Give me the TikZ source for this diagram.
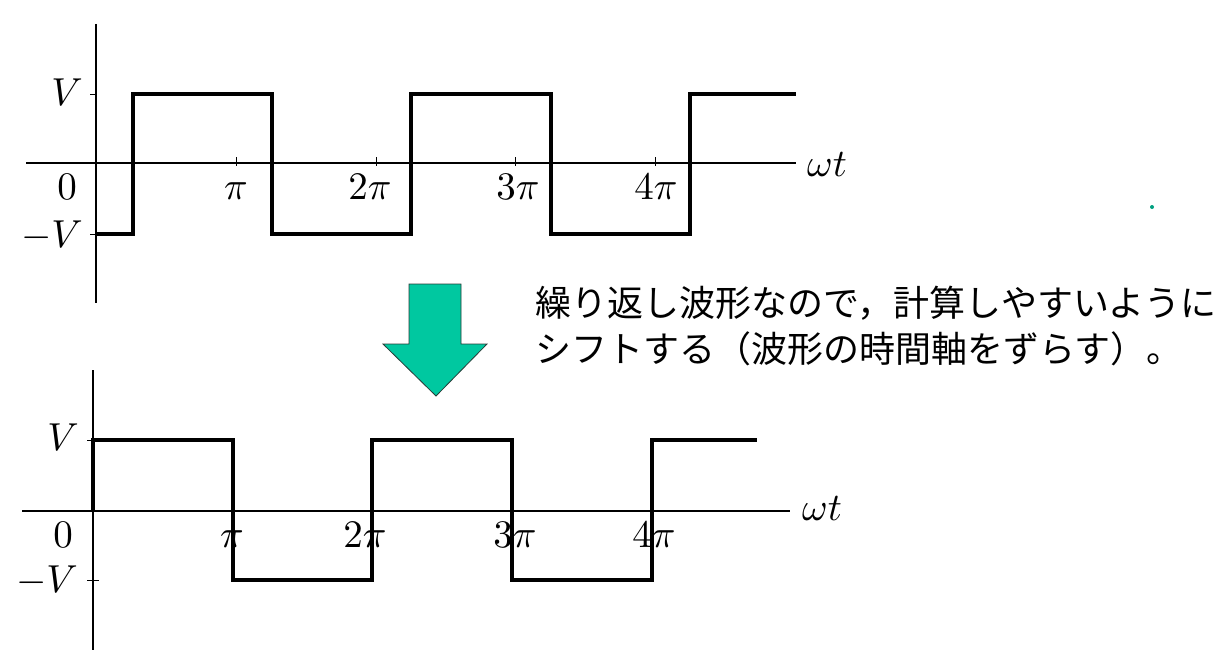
\documentclass[tikz,border=0pt]{standalone}
\usepackage{fontspec}
\newfontfamily\jp{Noto Sans CJK JP}
\newcommand{\mlab}[1]{\scalebox{3.9}{$#1$}}
\definecolor{arrowteal}{RGB}{0,200,160}
\definecolor{arrowedge}{RGB}{40,60,55}
\begin{document}
\begin{tikzpicture}[x=1pt,y=-1pt,
  axisline/.style={line width=2pt, line cap=butt},
  wave/.style={line width=3.8pt, line join=miter},
  wavebot/.style={line width=3.3pt, line join=miter},
  tickmark/.style={line width=1pt},
  lbl/.style={inner sep=0pt, anchor=base},
  jtext/.style={font=\jp\fontsize{36}{44}\selectfont, inner sep=0pt, anchor=base west},
  bigarrow/.style={fill=arrowteal, draw=arrowedge, line width=0.8pt, line join=miter}
]
\useasboundingbox (0,0) rectangle (1228,661);
\fill[white] (0,0) rectangle (1228,661);

% ---------- top graph ----------
\coordinate (ya1) at (96,24);
\coordinate (yb1) at (96,303);
\coordinate (xa1) at (26,163);
\coordinate (xb1) at (796,163);
\draw[axisline] (ya1) -- (yb1);
\draw[axisline] (xa1) -- (xb1);
\draw[tickmark] (90,94) -- (96,94);
\draw[tickmark] (90,234) -- (96,234);
\foreach \x in {236,376,515,655} \draw[tickmark] (\x,157) -- (\x,166);
\draw[wave] (96,234) -| (133,94) -| (272,234) -| (411,94) -| (551,234) -| (690,94) -- (796,94);
\node[lbl] (tV) at (67,105) {\mlab{V}};
\node[lbl] (t0) at (67,199) {\mlab{0}};
\node[lbl] (tmV) at (52,247) {\mlab{-V}};
\node[lbl] (tp1) at (236,199) {\mlab{\pi}};
\node[lbl] (tp2) at (370,199) {\mlab{2\pi}};
\node[lbl] (tp3) at (518,199) {\mlab{3\pi}};
\node[lbl] (tp4) at (656,199) {\mlab{4\pi}};
\node[lbl, anchor=base west] (twt) at (807,176) {\mlab{\omega t}};

% ---------- arrow ----------
\draw[bigarrow] (409,284) -- (461,284) -- (461,344) -- (487,344) -- (436,396) -- (383,344) -- (409,344) -- cycle;

% ---------- text ----------
\node[jtext] (line1) at (535,316) {繰り返し波形なので，計算しやすいように};
\node[jtext] (line2) at (535,362) {シフトする（波形の時間軸をずらす）。};

\fill[arrowteal!80!black] (1152,207) circle (2);

% ---------- bottom graph ----------
\coordinate (ya2) at (93,370);
\coordinate (yb2) at (93,650);
\coordinate (xa2) at (22,511);
\coordinate (xb2) at (790,511);
\draw[axisline] (ya2) -- (yb2);
\draw[axisline] (xa2) -- (xb2);
\draw[tickmark] (87,440) -- (99,440);
\draw[tickmark] (87,580) -- (99,580);
\draw[wavebot] (93,511) -- (93,440) -| (233,580) -| (372,440) -| (512,580) -| (652,440) -- (757,440);
\node[lbl] (bV) at (63,450) {\mlab{V}};
\node[lbl] (b0) at (63,547) {\mlab{0}};
\node[lbl] (bmV) at (47,592) {\mlab{-V}};
\node[lbl] (bp1) at (232,547) {\mlab{\pi}};
\node[lbl] (bp2) at (365,547) {\mlab{2\pi}};
\node[lbl] (bp3) at (515,547) {\mlab{3\pi}};
\node[lbl] (bp4) at (654,547) {\mlab{4\pi}};
\node[lbl, anchor=base west] (bwt) at (802,520) {\mlab{\omega t}};
\end{tikzpicture}
\end{document}
